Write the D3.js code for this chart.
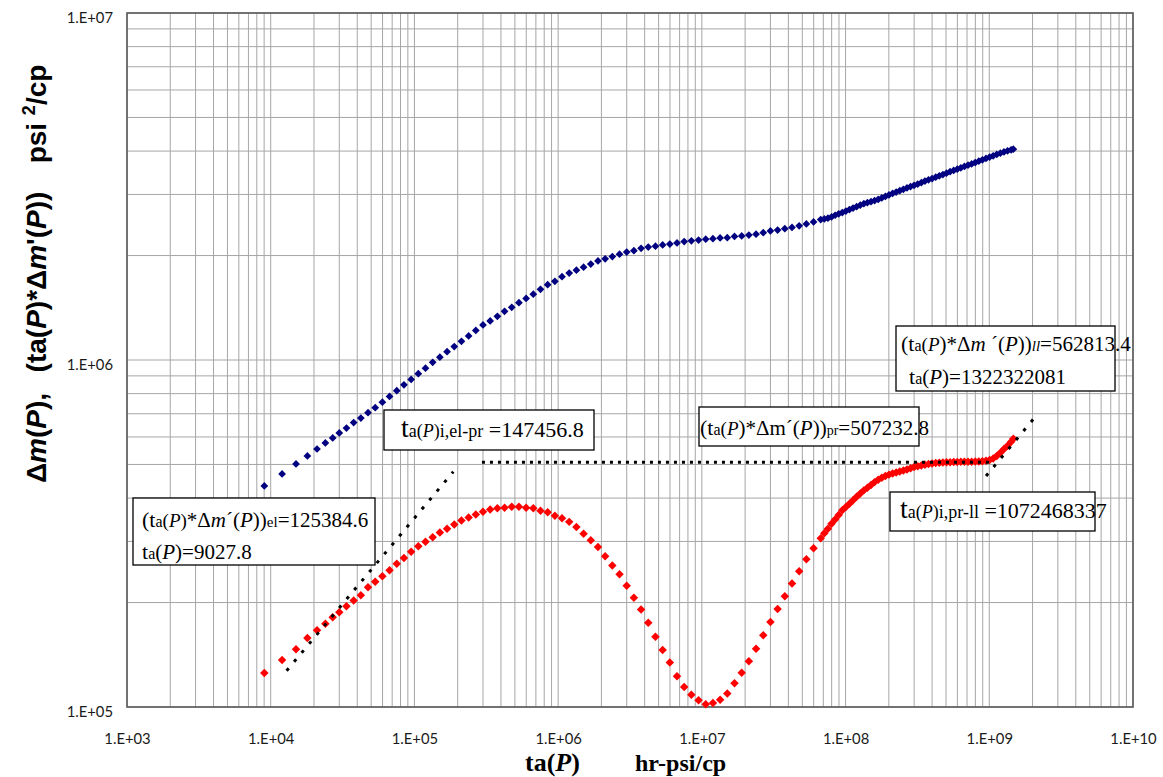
<!DOCTYPE html>
<html><head><meta charset="utf-8">
<script src="https://cdn.jsdelivr.net/npm/d3@7"></script>
<style>body{margin:0;background:#fff}</style>
</head><body>
<svg id="c" width="1163" height="777"></svg>
<script>
// ---- data ----
const taP = [9027.8,12000,15000,18000,21000,24000,27000,
30000,33660,37770,42380,47550,53350,59860,67160,75360,84550,94870,
106400,119400,134000,150300,168700,189300,212400,238300,267400,300000,
336600,377700,423800,475500,533500,598600,671600,753600,845500,948700,
1064000,1194000,1340000,1503000,1687000,1893000,2124000,2383000,2674000,3000000,
3366000,3777000,4238000,4755000,5335000,5986000,6716000,7536000,8455000,9487000,
10640000,11940000,13400000,15030000,16870000,18930000,21240000,23830000,26740000,30000000,
33660000,37770000,42380000,47550000,53350000,59860000,67160000,
71140000,75360000,79830000,84550000,89560000,94870000,100500000,106400000,112700000,119400000,
126500000,134000000,141900000,150300000,159300000,168700000,178700000,189300000,200500000,212400000,
225000000,238300000,252400000,267400000,283300000,300000000,317800000,336600000,356600000,377700000,
400100000,423800000,448900000,475500000,503700000,533500000,565200000,598600000,634100000,671600000,
711400000,753600000,798300000,845500000,895600000,948700000,1005000000,1064000000,1127000000,1194000000,
1265000000,1340000000,1419000000,1470000000];

const dmP = [433500,469500,501700,528900,554000,576600,596000,
616100,636800,660000,680000,705000,729000,756000,785000,816000,848000,879000,
913000,947000,985000,1019000,1057000,1093000,1132000,1173000,1217000,1262000,
1296000,1336000,1381000,1418000,1463000,1504000,1548000,1599000,1648000,1686000,
1738000,1781000,1815000,1852000,1890000,1929000,1957000,1986000,2018000,2047000,
2066000,2099000,2115000,2128000,2145000,2159000,2175000,2195000,2205000,2217000,
2230000,2237000,2247000,2251000,2271000,2277000,2292000,2305000,2328000,2354000,
2369000,2390000,2411000,2437000,2466000,2499000,2539000,
2550000,2563000,2585000,2613000,2637000,2661000,2687000,2713000,2740000,2765000,
2793000,2821000,2841000,2858000,2880000,2903000,2932000,2961000,2989000,3021000,
3047000,3075000,3104000,3132000,3160000,3187000,3215000,3243000,3278000,3305000,
3334000,3365000,3395000,3424000,3454000,3489000,3517000,3548000,3580000,3614000,
3643000,3674000,3708000,3740000,3775000,3808000,3843000,3877000,3911000,3943000,
3977000,4007000,4033000,4050000];

const derP = [125384.6,136600,146700,158100,166400,173700,181400,
187600,195200,202800,209800,221400,229500,238200,247800,258900,268800,280300,
290700,299200,308300,318200,326200,335700,344600,351600,358500,365200,
370800,373800,375300,377500,377800,375300,373800,367600,364000,355600,
350000,341600,330400,315700,302400,289200,271800,255700,241300,223600,
206500,190900,174800,159300,145900,134300,122600,114200,108500,104500,
101800,102700,104900,109400,117000,125600,135500,147300,161000,175700,
191600,208400,226900,246100,266600,286800,306300,
317000,326200,337200,346800,357500,369000,377000,385100,394600,403400,
412200,421000,428700,436400,444700,452000,458000,463200,467400,471000,
473900,477100,480200,483700,487600,491500,494400,496800,499100,501300,
503400,504800,505800,506800,507300,507600,508300,508600,509300,509300,
509300,509300,509600,510300,511000,512300,515000,520200,529000,540600,
553800,566200,581000,593000];

// straight-line guides (end points)
const elLineT = [12900, 186500], elLineV = [127200, 476600];
const prLineT = [295000, 1000000000], prLineV = [507232.8, 507232.8];
const llLineT = [950000000, 2050000000], llLineV = [463200, 679200];

const xTickValues = [1e3,1e4,1e5,1e6,1e7,1e8,1e9,1e10];
const xTickLabels = ["1.E+03","1.E+04","1.E+05","1.E+06","1.E+07","1.E+08","1.E+09","1.E+10"];
const yTickValues = [1e5,1e6,1e7];
const yTickLabels = ["1.E+05","1.E+06","1.E+07"];

// ---- drawing ----
const svg = d3.select("#c");
const L=127, R=1133, T=13, B=707;
const x = d3.scaleLog().domain([1e3,1e10]).range([L,R]);
const y = d3.scaleLog().domain([1e5,1e7]).range([B,T]);

svg.append("rect").attr("width",1163).attr("height",777).attr("fill","#fff");

const grid = svg.append("g");
grid.selectAll("line.vx").data(x.ticks()).join("line")
  .attr("x1",d=>x(d)).attr("x2",d=>x(d)).attr("y1",T).attr("y2",B)
  .attr("stroke","#a6a6a6").attr("stroke-width",1);
grid.selectAll("line.hy").data(y.ticks()).join("line")
  .attr("y1",d=>y(d)).attr("y2",d=>y(d)).attr("x1",L).attr("x2",R)
  .attr("stroke","#a6a6a6").attr("stroke-width",1);

svg.append("rect").attr("x",L).attr("y",T).attr("width",R-L).attr("height",B-T)
  .attr("fill","none").attr("stroke","#5a5a5a").attr("stroke-width",1.6);

const TICKFONT = "Lato, 'Open Sans', sans-serif";
const xa = svg.append("g").attr("transform",`translate(0,${B})`)
  .call(d3.axisBottom(x).tickValues(xTickValues).tickFormat((d,i)=>xTickLabels[i]).tickSize(0).tickPadding(26));
xa.select(".domain").remove();
xa.selectAll("text").attr("font-family",TICKFONT).attr("font-size",14.8).attr("fill","#1a1a1a");

const ya = svg.append("g").attr("transform",`translate(${L},0)`)
  .call(d3.axisLeft(y).tickValues(yTickValues).tickFormat((d,i)=>yTickLabels[i]).tickSize(0).tickPadding(14));
ya.select(".domain").remove();
ya.selectAll("text").attr("font-family",TICKFONT).attr("font-size",14.8).attr("fill","#1a1a1a").attr("y",5);

const pts = taP.map((t,i)=>({t, a:dmP[i], b:derP[i]}));
const sqB = d3.symbol(d3.symbolSquare, 30)();
const sqR = d3.symbol(d3.symbolSquare, 36)();
svg.append("g").selectAll("path").data(pts).join("path")
  .attr("d",sqB).attr("fill","#000080")
  .attr("transform",d=>`translate(${x(d.t)},${y(d.a)}) rotate(45)`);
svg.append("g").selectAll("path").data(pts).join("path")
  .attr("d",sqR).attr("fill","#ff0000")
  .attr("transform",d=>`translate(${x(d.t)},${y(d.b)}) rotate(45)`);

const line = d3.line().x(d=>x(d[0])).y(d=>y(d[1]));
function guide(T,V,dash){
  svg.append("path").datum(T.map((t,i)=>[t,V[i]])).attr("d",line)
    .attr("fill","none").attr("stroke","#000").attr("stroke-width",3).attr("stroke-dasharray",dash);
}
guide(elLineT,elLineV,"3.2,8.5");
guide(prLineT,prLineV,"3,5");
guide(llLineT,llLineV,"3.2,8.5");

// ---- annotations ----
const SERIF = "'Liberation Serif','Times New Roman',serif";
function box(x0,y0,x1,y1){
  svg.append("rect").attr("x",x0).attr("y",y0).attr("width",x1-x0).attr("height",y1-y0)
    .attr("fill","#fff").attr("stroke","#000").attr("stroke-width",1.3);
}
function rich(px,py,parts){
  const t = svg.append("text").attr("x",px).attr("y",py).attr("font-family",SERIF)
    .attr("fill","#000").style("white-space","pre");
  parts.forEach(p=>t.append("tspan").attr("font-size",p[1]).attr("font-style",p[2]||"normal").text(p[0]));
}
box(133,498,375,565);
rich(142,527,[["(t",22],["a",16],["(",19],["P",19,"italic"],[")",19],["*",21],["Δ",21],["m",21,"italic"],["´(",21],["P",21,"italic"],["))",21],["el",15],["=125384.6",21]]);
rich(142,559,[["t",22],["a",16],["(",21],["P",21,"italic"],[")=9027.8",21]]);

box(384,410,594,450);
rich(401,437,[["t",28],["a(",18],["P",18,"italic"],[")i,el-pr",18],[" =147456.8",22]]);

box(699,407,919,446);
rich(700,435,[["(t",22],["a",16],["(",19],["P",19,"italic"],[")*Δm´(",21],["P",21,"italic"],["))",21],["pr",14],["=507232.8",21]]);

box(896,326,1115,391);
rich(901,351,[["(t",22],["a",16],["(",19],["P",19,"italic"],[")*Δ",21],["m",21,"italic"],[" ´(",21],["P",21,"italic"],["))",21],["ll",15,"italic"],["=562813.4",21]]);
rich(909,384,[["t",22],["a",16],["(",21],["P",21,"italic"],[")=1322322081",21]]);

box(890,492,1095,531);
rich(900,518,[["t",28],["a(",18],["P",18,"italic"],[")i,pr-ll",18],[" =1072468337",22]]);

// ---- axis titles ----
const xt = svg.append("text").attr("x",525).attr("y",771).attr("font-family",SERIF).attr("font-weight","bold").attr("font-size",26);
xt.append("tspan").text("ta(");
xt.append("tspan").attr("font-style","italic").text("P");
xt.append("tspan").text(")");
svg.append("text").attr("x",635).attr("y",771).attr("font-family",SERIF).attr("font-weight","bold").attr("font-size",24).text("hr-psi/cp");

const SANS = "'Liberation Sans',Arial,sans-serif";
function ytitle(cy, parts){
  const t = svg.append("text").attr("transform",`translate(46,${cy}) rotate(-90)`)
    .attr("text-anchor","middle").attr("font-family",SANS).attr("font-weight","bold").attr("font-size",28)
    .style("white-space","pre");
  parts.forEach(p=>{
    const s = t.append("tspan").text(p[0]);
    if(p[1]) s.attr("font-style","italic");
    if(p[2]) s.attr("font-size",p[2]);
    if(p[3]) s.attr("dy",p[3]);
  });
}
ytitle(438,[["Δ"],["m",1],["("],["P",1],["),"]]);
ytitle(282,[["(ta("],["P",1],[")*Δ"],["m",1],["'("],["P",1],["))"]]);
ytitle(114,[["psi "],["2",0,18,-11],["/cp",0,28,11]]);
</script>
</body></html>
